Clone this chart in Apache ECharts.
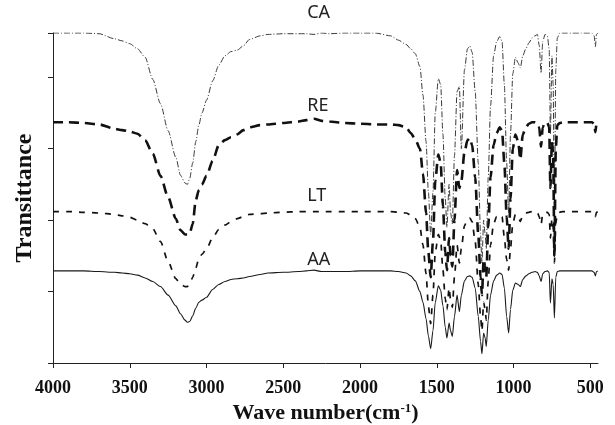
<!DOCTYPE html>
<html>
<head>
<meta charset="utf-8">
<script src="https://cdn.jsdelivr.net/npm/echarts@6/dist/echarts.min.js"></script>
<style>
  html, body { margin: 0; padding: 0; background: #fff; }
  #chart { width: 615px; height: 425px; }
</style>
</head>
<body>
<div id="chart"></div>
<script>
// Wave numbers (cm-1) shared by all four spectra
const waveNumbers = [
  4000, 3900, 3800, 3700, 3600, 3550, 3500, 3450, 3400, 3350,
  3300, 3250, 3200, 3170, 3140, 3125, 3110, 3090, 3070, 3050,
  3030, 3000, 2960, 2920, 2880, 2840, 2800, 2760, 2720, 2650,
  2600, 2500, 2400, 2350, 2300, 2250, 2200, 2100, 2000, 1900,
  1800, 1750, 1700, 1670, 1640, 1610, 1590, 1570, 1555, 1540,
  1525, 1510, 1490, 1475, 1460, 1445, 1434, 1420, 1410, 1399,
  1385, 1368, 1353, 1340, 1320, 1300, 1285, 1270, 1250, 1230,
  1215, 1206, 1195, 1185, 1178, 1165, 1150, 1130, 1110, 1090,
  1075, 1060, 1045, 1032, 1020, 1005, 988, 970, 956, 940,
  920, 900, 880, 860, 845, 833, 821, 810, 795, 780,
  768, 760, 750, 742, 734, 725, 715, 700, 680, 650,
  620, 600, 560, 520, 490, 475, 467, 460, 450
];

// Transmittance of each sample (stacked, arbitrary units)
const caValues = [
  4.62, 4.62, 4.62, 4.61, 4.54, 4.51, 4.47, 4.40, 4.28, 3.97,
  3.63, 3.25, 2.88, 2.63, 2.52, 2.50, 2.58, 2.80, 3.10, 3.33,
  3.50, 3.68, 3.95, 4.17, 4.30, 4.36, 4.38, 4.44, 4.53, 4.58,
  4.60, 4.61, 4.61, 4.61, 4.60, 4.62, 4.61, 4.62, 4.62, 4.62,
  4.58, 4.52, 4.46, 4.40, 4.33, 4.15, 3.75, 3.10, 2.40, 1.80,
  2.40, 3.50, 3.98, 3.90, 3.20, 2.30, 1.90, 2.50, 2.10, 1.95,
  2.90, 3.80, 3.87, 3.00, 4.10, 4.40, 4.44, 4.35, 3.80, 2.80,
  1.80, 1.40, 2.00, 1.80, 1.60, 2.60, 3.60, 4.30, 4.50, 4.57,
  4.50, 3.90, 2.80, 2.10, 3.20, 4.05, 4.28, 4.20, 4.13, 4.30,
  4.40, 4.48, 4.55, 4.58, 4.60, 4.45, 4.06, 4.50, 4.60, 4.58,
  4.40, 3.20, 4.30, 3.90, 2.00, 4.10, 4.55, 4.62, 4.62, 4.62,
  4.62, 4.62, 4.62, 4.62, 4.62, 4.58, 4.43, 4.60, 4.62
];

const reValues = [
  3.37, 3.37, 3.36, 3.34, 3.28, 3.26, 3.24, 3.21, 3.12, 2.93,
  2.62, 2.32, 2.02, 1.86, 1.80, 1.80, 1.81, 1.95, 2.28, 2.42,
  2.50, 2.62, 2.83, 3.05, 3.12, 3.16, 3.20, 3.26, 3.30, 3.33,
  3.34, 3.36, 3.38, 3.40, 3.42, 3.39, 3.38, 3.36, 3.35, 3.34,
  3.34, 3.33, 3.30, 3.22, 3.13, 3.00, 2.65, 2.10, 1.55, 1.20,
  1.70, 2.55, 2.92, 2.80, 2.20, 1.55, 1.30, 1.75, 1.50, 1.35,
  2.00, 2.70, 2.45, 2.55, 2.95, 3.12, 3.15, 3.05, 2.60, 1.80,
  1.20, 0.95, 1.45, 1.35, 1.20, 1.90, 2.60, 3.05, 3.22, 3.30,
  3.25, 2.80, 2.05, 1.60, 2.30, 3.00, 3.20, 3.10, 2.85, 3.20,
  3.30, 3.35, 3.37, 3.37, 3.36, 3.30, 3.03, 3.30, 3.37, 3.36,
  3.30, 2.45, 3.10, 2.90, 1.50, 3.00, 3.33, 3.36, 3.37, 3.37,
  3.37, 3.37, 3.37, 3.37, 3.37, 3.35, 3.23, 3.35, 3.37
];

const ltValues = [
  2.12, 2.12, 2.11, 2.10, 2.08, 2.06, 2.04, 2.00, 1.95, 1.88,
  1.70, 1.42, 1.18, 1.10, 1.07, 1.07, 1.10, 1.20, 1.33, 1.46,
  1.52, 1.60, 1.75, 1.87, 1.93, 1.98, 2.02, 2.05, 2.08, 2.09,
  2.10, 2.11, 2.12, 2.12, 2.12, 2.12, 2.12, 2.12, 2.12, 2.12,
  2.12, 2.11, 2.10, 2.07, 2.02, 1.90, 1.65, 1.25, 0.80, 0.55,
  0.95, 1.55, 1.80, 1.72, 1.30, 0.90, 0.75, 1.05, 0.88, 0.78,
  1.20, 1.65, 1.40, 1.60, 1.92, 2.02, 2.03, 1.98, 1.70, 1.10,
  0.65, 0.45, 0.85, 0.75, 0.60, 1.15, 1.65, 1.95, 2.05, 2.08,
  2.05, 1.75, 1.45, 1.30, 1.60, 1.95, 2.08, 2.05, 1.98, 2.07,
  2.10, 2.11, 2.12, 2.12, 2.11, 2.05, 1.94, 2.08, 2.11, 2.11,
  2.08, 1.75, 2.02, 1.90, 1.40, 1.95, 2.09, 2.11, 2.12, 2.12,
  2.12, 2.12, 2.12, 2.12, 2.12, 2.10, 2.05, 2.11, 2.12
];

const aaValues = [
  1.29, 1.29, 1.29, 1.28, 1.27, 1.26, 1.25, 1.23, 1.19, 1.14,
  1.07, 0.95, 0.80, 0.69, 0.60, 0.57, 0.58, 0.66, 0.77, 0.85,
  0.88, 0.92, 1.03, 1.10, 1.14, 1.17, 1.18, 1.19, 1.21, 1.24,
  1.26, 1.27, 1.28, 1.29, 1.30, 1.28, 1.28, 1.28, 1.29, 1.29,
  1.29, 1.28, 1.26, 1.22, 1.15, 1.00, 0.85, 0.62, 0.38, 0.20,
  0.45, 0.85, 1.08, 1.02, 0.80, 0.50, 0.35, 0.56, 0.45, 0.37,
  0.65, 0.95, 0.72, 0.95, 1.15, 1.21, 1.22, 1.20, 1.05, 0.65,
  0.30, 0.13, 0.42, 0.35, 0.23, 0.60, 0.95, 1.15, 1.23, 1.26,
  1.24, 1.05, 0.65, 0.42, 0.75, 1.02, 1.12, 1.10, 1.07, 1.17,
  1.22, 1.25, 1.27, 1.28, 1.27, 1.22, 1.14, 1.25, 1.28, 1.29,
  1.27, 0.84, 1.18, 1.10, 0.63, 1.20, 1.28, 1.29, 1.29, 1.29,
  1.29, 1.29, 1.29, 1.29, 1.29, 1.27, 1.22, 1.28, 1.29
];

// Sample names and where their captions sit (wave number, transmittance)
const sampleNames = ['CA', 'RE', 'LT', 'AA'];
const captionWave = [2344, 2344, 2344, 2344];
const captionLevel = [4.90, 3.60, 2.34, 1.45];

// Labelled ticks on the wave-number axis
const tickWaveNumbers = [4000, 3500, 3000, 2500, 2000, 1500, 1000, 500];

const pairs = vals => waveNumbers.map((w, i) => [w, vals[i]]);

const lineStyles = {
  CA: { color: '#3a3a3a', width: 1, type: [6, 2, 1, 2] },
  RE: { color: '#111', width: 2.6, type: [10, 6] },
  LT: { color: '#111', width: 1.7, type: [6, 7] },
  AA: { color: '#1a1a1a', width: 1.1, type: 'solid' }
};
const valueSets = { CA: caValues, RE: reValues, LT: ltValues, AA: aaValues };

const serif = 'Liberation Serif, Times New Roman, serif';

const chart = echarts.init(document.getElementById('chart'), null, { renderer: 'canvas' });

chart.setOption({
  animation: false,
  backgroundColor: '#fff',
  grid: { left: 53, right: 17, top: 33, bottom: 62, outerBoundsMode: 'none' },
  xAxis: {
    type: 'value',
    inverse: true,
    min: 450,
    max: 4000,
    splitLine: { show: false },
    axisLine: { lineStyle: { color: '#222', width: 1 } },
    axisTick: { customValues: tickWaveNumbers, length: 5, lineStyle: { color: '#222' } },
    axisLabel: {
      customValues: tickWaveNumbers,
      formatter: v => String(v),
      fontFamily: serif, fontWeight: 'bold', fontSize: 18, color: '#111', margin: 16
    },
    name: '{t|Wave number(cm}{s|-1}{t|)}',
    nameLocation: 'middle',
    nameGap: 35,
    nameTextStyle: {
      rich: {
        t: { fontFamily: serif, fontWeight: 'bold', fontSize: 22, color: '#111' },
        s: { fontFamily: serif, fontWeight: 'bold', fontSize: 13, color: '#111', padding: [0, 0, 10, 0] }
      }
    }
  },
  yAxis: {
    type: 'value',
    min: 0,
    max: 4.62,
    interval: 1,
    splitLine: { show: false },
    axisLine: { show: true, lineStyle: { color: '#222', width: 1 } },
    axisTick: { show: true, length: 5, lineStyle: { color: '#222' } },
    axisLabel: { show: false },
    name: 'Transittance',
    nameLocation: 'middle',
    nameRotate: 90,
    nameGap: 16,
    nameTextStyle: { fontFamily: serif, fontWeight: 'bold', fontSize: 24, color: '#111' }
  },
  series: sampleNames.map(n => ({
    name: n,
    type: 'line',
    data: pairs(valueSets[n]),
    showSymbol: false,
    smooth: 0.25,
    smoothMonotone: 'x',
    lineStyle: lineStyles[n],
    z: n === 'AA' ? 5 : 3
  }))
});

// Sample captions anchored in data coordinates
chart.setOption({
  graphic: sampleNames.map((n, i) => {
    const p = chart.convertToPixel({ gridIndex: 0 }, [captionWave[i], captionLevel[i]]);
    return {
      type: 'text',
      x: p[0],
      y: p[1],
      style: {
        text: n,
        font: '18px "Noto Sans", sans-serif',
        fill: '#222',
        align: 'left',
        verticalAlign: 'middle'
      }
    };
  })
});
</script>
</body>
</html>
